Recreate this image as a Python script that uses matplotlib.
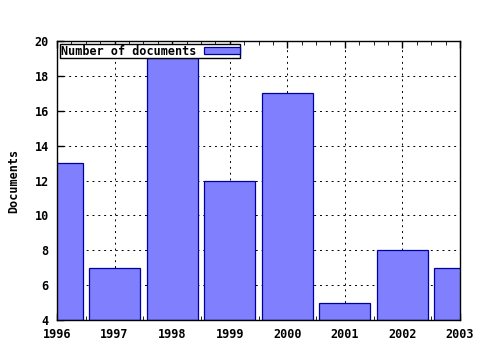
import matplotlib
matplotlib.use("Agg")
import matplotlib.pyplot as plt
from matplotlib.ticker import MultipleLocator

years = [1996, 1997, 1998, 1999, 2000, 2001, 2002, 2003]
documents = [13, 7, 19, 12, 17, 5, 8, 7]
series_label = "Number of documents"
y_label = "Documents"

plt.rcParams['font.family'] = ['DejaVu Sans Mono']
plt.rcParams['font.weight'] = 'bold'

fig = plt.figure(figsize=(4.8, 3.5), dpi=100)
ax = fig.add_axes([57/480, 1 - 320/350, (460-57)/480, (320-41)/350])

ax.bar(years, [d - 4 for d in documents], bottom=4, width=0.89,
       color='#8080ff', edgecolor='#0000a0', linewidth=0.9,
       label=series_label, zorder=2)

ax.set_xlim(1996, 2003)
ax.set_ylim(4, 20)
ax.set_xticks(years)
ax.set_xticklabels([str(y) for y in years])
ax.xaxis.set_minor_locator(MultipleLocator(0.25))
ax.yaxis.set_major_locator(MultipleLocator(2))

ax.grid(True, which='major', linestyle=(0, (2, 4)), color='black', linewidth=0.7, zorder=0)
ax.set_axisbelow(True)

ax.tick_params(axis='both', which='major', direction='in', length=5, width=1,
               labelsize=8.5, pad=6, colors='black')
ax.tick_params(axis='x', which='both', top=True, direction='in')
ax.tick_params(axis='x', which='minor', length=3)
ax.tick_params(axis='y', right=False)
for lbl in ax.get_xticklabels() + ax.get_yticklabels():
    lbl.set_fontweight('bold')

for s in ax.spines.values():
    s.set_linewidth(1.0)
    s.set_color('black')

ax.set_ylabel(y_label, fontsize=8.5, fontweight='bold', labelpad=10)

leg = ax.legend(loc='upper left', markerfirst=False, fancybox=False,
                framealpha=1, edgecolor='black', fontsize=8.5,
                borderpad=0.05, handlelength=3.0, handleheight=0.55,
                borderaxespad=0.25, handletextpad=0.7)
leg.get_frame().set_linewidth(1.0)
for t in leg.get_texts():
    t.set_fontweight('bold')

fig.savefig("out.png", dpi=100)
